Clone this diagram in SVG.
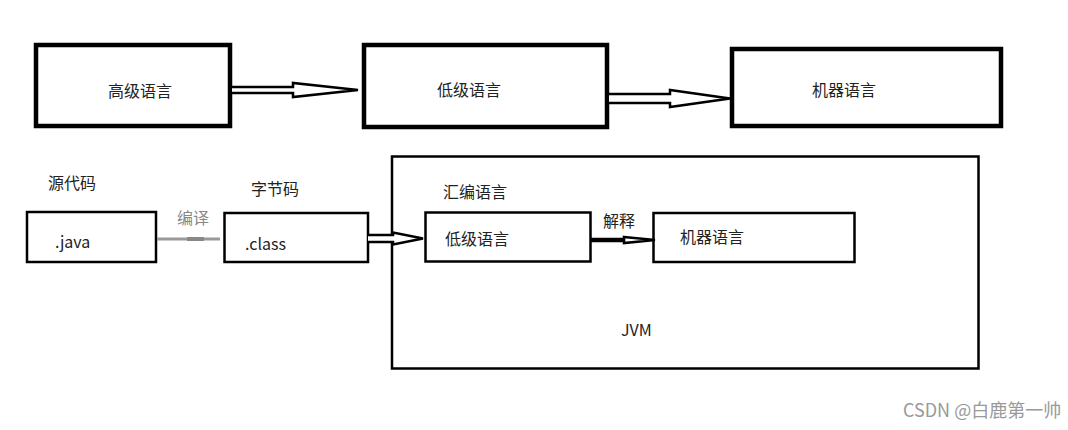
<svg xmlns="http://www.w3.org/2000/svg" width="1068" height="430" viewBox="0 0 1068 430">
<style>
text{font-family:"Noto Sans CJK SC","Liberation Sans",sans-serif;font-size:16px;fill:#222}
.big{fill:#fff;stroke:#000;stroke-width:4.5}
.small{fill:#fff;stroke:#000;stroke-width:2.5}
.arr{fill:#fff;stroke:#000;stroke-width:2.5;stroke-linejoin:miter}
.gray{fill:#888}
.wm{fill:#999;font-size:18px}
</style>
<rect width="1068" height="430" fill="#fff"/>
<g id="jvm">
<rect x="392" y="156.5" width="586.5" height="212" class="small"/>
<text x="443" y="198">汇编语言</text>
<text x="621" y="336">JVM</text>
</g>
<g id="high">
<rect x="36" y="45" width="194" height="81" class="big"/>
<text x="108" y="97">高级语言</text>
</g>
<g id="low">
<rect x="364" y="45" width="243" height="82" class="big"/>
<text x="437" y="96">低级语言</text>
</g>
<g id="machine">
<rect x="732" y="49" width="269" height="77" class="big"/>
<text x="812" y="96">机器语言</text>
</g>
<g id="source">
<text x="48" y="189">源代码</text>
<rect x="27" y="212" width="129" height="50" class="small"/>
<text x="55" y="248">.java</text>
</g>
<g id="bytecode">
<text x="251" y="195">字节码</text>
<rect x="224.5" y="213" width="143.5" height="49" class="small"/>
<text x="245" y="250">.class</text>
</g>
<g id="jvm-low">
<rect x="425.5" y="212.5" width="165" height="49" class="small"/>
<text x="445" y="245">低级语言</text>
</g>
<g id="jvm-machine">
<rect x="653.5" y="213" width="201" height="49" class="small"/>
<text x="680" y="243">机器语言</text>
</g>
<g id="connectors">
<path class="arr" d="M232,87 L293,87 L293,83 L358,90 L293,97 L293,93 L232,93"/>
<path class="arr" d="M609,94 L670,94 L670,90 L730,98.5 L670,107 L670,103 L609,103"/>
<path class="arr" d="M368,235 L393,235 L393,232.5 L423,238.5 L393,244.5 L393,242 L368,242"/>
<line x1="591" y1="240" x2="626" y2="240" stroke="#000" stroke-width="4.5"/>
<path class="arr" stroke-width="2" d="M624,237 L655,240 L624,243 Z"/>
<line x1="157" y1="239" x2="220" y2="239" stroke="#999" stroke-width="3"/>
<line x1="187" y1="239" x2="204" y2="239" stroke="#888" stroke-width="4"/>
<text x="177" y="224" class="gray">编译</text>
<text x="603" y="227">解释</text>
</g>
<text x="903" y="417" class="wm">CSDN @白鹿第一帅</text>
</svg>
